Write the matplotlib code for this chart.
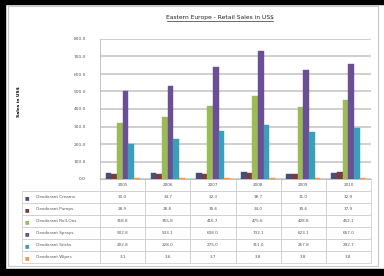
import matplotlib
matplotlib.use("Agg")
import matplotlib.pyplot as plt
from matplotlib.patches import Rectangle
from matplotlib.lines import Line2D
import numpy as np

years = ["2005", "2006", "2007", "2008", "2009", "2010"]
products = ["Deodorant Creams", "Deodorant Pumps", "Deodorant Roll-Ons",
            "Deodorant Sprays", "Deodorant Sticks", "Deodorant Wipes"]
creams = [33.0, 34.7, 32.3, 38.7, 31.0, 32.9]
pumps = [28.9, 28.8, 30.6, 34.0, 30.6, 37.9]
roll_ons = [318.8, 355.8, 416.7, 475.6, 408.8, 452.1]
sprays = [502.8, 533.1, 638.0, 732.1, 623.1, 657.0]
sticks = [202.8, 228.0, 275.0, 311.0, 267.8, 292.7]
wipes = [3.1, 3.6, 3.7, 3.8, 3.8, 3.8]
series = [creams, pumps, roll_ons, sprays, sticks, wipes]
colors = ["#45507a", "#7e3b3b", "#9bbb59", "#6a4f96", "#3a9fb8", "#f79646"]

W, H = 384, 276
fig = plt.figure(figsize=(W / 100, H / 100), dpi=100)
fig.patch.set_facecolor("white")

# outer frame (black edges of the screenshot) and chart area border
fig.add_artist(Rectangle((8 / W, 1 - 266 / H), 370 / W, 260 / H, transform=fig.transFigure,
                         facecolor="white", edgecolor="#c8c8c8", lw=0.8, zorder=-5))
fig.add_artist(Rectangle((0, 1 - 4 / H), 1, 4 / H, transform=fig.transFigure, color="black"))
fig.add_artist(Rectangle((0, 0), 5 / W, 1, transform=fig.transFigure, color="black"))
fig.add_artist(Rectangle((0, 0), 1, 7 / H, transform=fig.transFigure, color="black"))

ax_l, ax_r, ax_b, ax_t = 100, 371, 179, 39
ax = fig.add_axes([ax_l / W, 1 - ax_b / H, (ax_r - ax_l) / W, (ax_b - ax_t) / H])
ax.set_facecolor("none")

x = np.arange(len(years))
bw = 0.125
for k, vals in enumerate(series):
    ax.bar(x + (k - 2.5) * bw, vals, bw, color=colors[k], edgecolor=colors[k], lw=0.3, zorder=3)

ax.set_xlim(-0.5, len(years) - 0.5)
ax.set_ylim(0, 800)
ax.set_yticks(np.arange(0, 801, 100))
ax.set_yticklabels([f"{v:.1f}" for v in np.arange(0, 801, 100)], fontsize=3.2, color="#555555")
ax.set_xticks([])
ax.tick_params(axis="y", length=0, pad=10)
ax.grid(axis="y", color="#cccccc", lw=1.3, zorder=0)
for s in ["top", "right"]:
    ax.spines[s].set_visible(False)
ax.spines["left"].set_color("#bbbbbb")
ax.spines["bottom"].set_color("#bbbbbb")
ax.spines["left"].set_linewidth(0.6)
ax.spines["bottom"].set_linewidth(0.6)

axw = ax_r - ax_l
axh = ax_b - ax_t
ax.set_ylabel("Sales in US$", fontsize=3.2, fontweight="bold")
ax.yaxis.set_label_coords((21 - ax_l) / axw, 0.55)

# title with underline
fig.text(220 / W, 1 - 17 / H, "Eastern Europe - Retail Sales in US$", fontsize=4.3,
         ha="center", va="center", color="#222222")
fig.add_artist(Line2D([167 / W, 273 / W], [1 - 21 / H, 1 - 21 / H], transform=fig.transFigure,
                      color="#333333", lw=0.5))

# data table
tab_l, tab_t, row_h = 22, 180, 12
cell_text = [["     " + p] + [f"{v:.1f}" for v in vals] for p, vals in zip(products, series)]
col_w = [78] + [(ax_r - ax_l) / len(years)] * len(years)
tbl = ax.table(cellText=cell_text, colLabels=[""] + years,
               colWidths=[c / sum(col_w) for c in col_w],
               bbox=[(tab_l - ax_l) / axw, -(row_h * 7) / axh, sum(col_w) / axw, row_h * 7 / axh],
               cellLoc="center")
tbl.auto_set_font_size(False)
for (r, c), cell in tbl.get_celld().items():
    cell.set_edgecolor("#c8c8c8")
    cell.set_linewidth(0.5)
    cell.get_text().set_fontsize(3.0)
    cell.get_text().set_color("#555555")
    if c == 0:
        cell.get_text().set_ha("left")
        cell._loc = "left"
    if r == 0 and c == 0:
        cell.visible_edges = "B"

for k in range(len(products)):
    yc = tab_t + row_h * (k + 1.5)
    fig.text(27 / W, 1 - yc / H, "■", color=colors[k], fontsize=3.5, ha="center", va="center")

fig.savefig("out.png", dpi=100)
